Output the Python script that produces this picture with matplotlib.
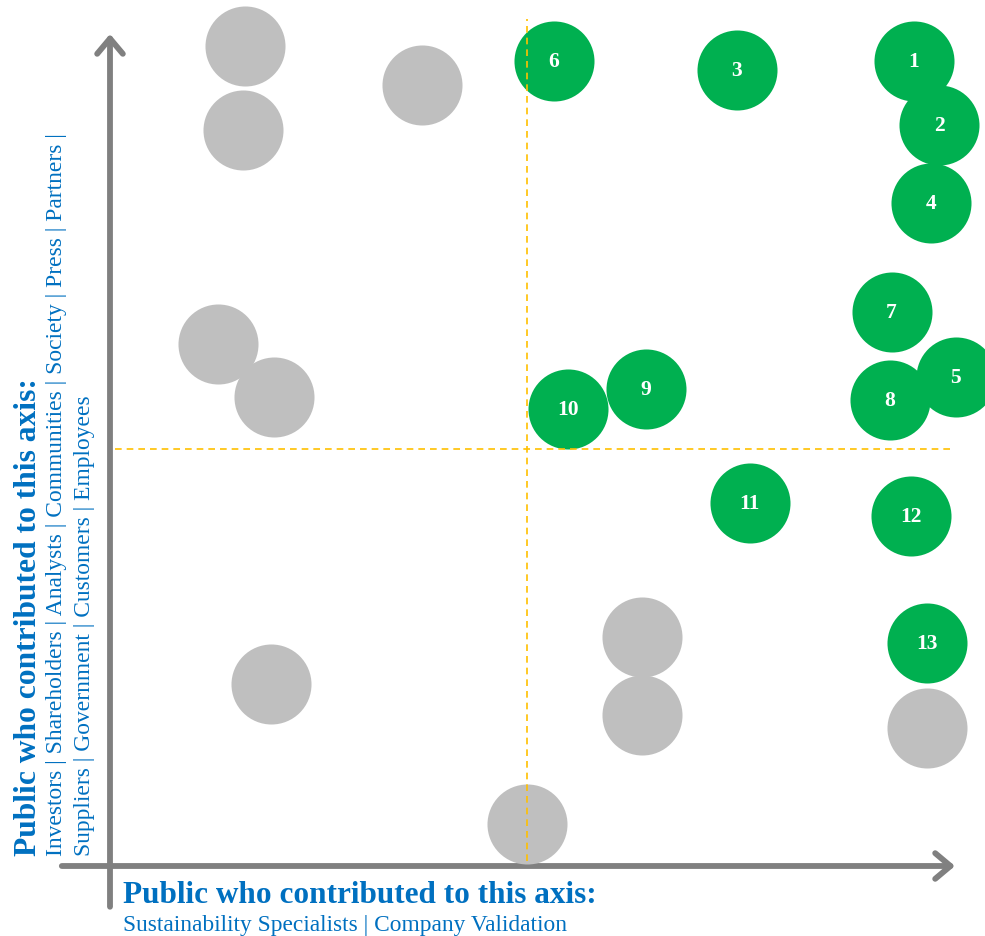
import matplotlib.pyplot as plt

plt.rcParams['font.family'] = ['Liberation Serif', 'DejaVu Serif']

# ---------------------------------------------------------------------------
# Data (0-100 scale on both axes)
# ---------------------------------------------------------------------------
green_labels = ['1', '2', '3', '4', '5', '6', '7', '8', '9', '10', '11', '12', '13']
green_x = [95.1, 98.1, 74.2, 97.2, 100.1, 52.5, 92.5, 92.3, 63.4, 54.2, 75.7, 94.8, 96.7]
green_y = [96.8, 89.1, 95.7, 79.7, 58.8, 96.8, 66.6, 56.0, 57.3, 54.9, 43.6, 42.1, 26.8]

gray_x = [16.0, 15.7, 36.9, 12.8, 19.4, 63.0, 63.0, 19.1, 49.3, 96.7]
gray_y = [98.6, 88.5, 93.9, 62.7, 56.4, 27.5, 18.1, 21.9, 5.0, 16.6]

x_cut = 49.3
y_cut = 50.1

x_title = 'Public who contributed to this axis:'
x_sub = 'Sustainability Specialists | Company Validation'
y_title = 'Public who contributed to this axis:'
y_sub1 = 'Investors | Shareholders | Analysts | Communities | Society | Press | Partners |'
y_sub2 = 'Suppliers | Government | Customers | Employees'

GREEN = '#00B050'
GRAY = '#BFBFBF'
AXIS = '#808080'
BLUE = '#0070C0'
ORANGE = '#FFC000'

# ---------------------------------------------------------------------------
# Figure
# ---------------------------------------------------------------------------
W, H = 985, 937
fig = plt.figure(figsize=(W / 100, H / 100), dpi=100)
ax = fig.add_axes([110 / W, (H - 867) / H, (955 - 110) / W, (867 - 35) / H])
ax.set_xlim(0, 100)
ax.set_ylim(0, 100)
ax.axis('off')

# axes with arrows
arrow = dict(arrowstyle='->, head_length=0.5, head_width=0.42', lw=4.2,
             color=AXIS, shrinkA=0, shrinkB=0, mutation_scale=22)
ax.annotate('', xy=(100, 0), xytext=(-5.7, 0), arrowprops=arrow,
            annotation_clip=False)
ax.annotate('', xy=(0, 100), xytext=(0, -4.9), arrowprops=arrow,
            annotation_clip=False)

# bubbles
size = 3320
ax.scatter(gray_x, gray_y, s=size, color=GRAY, linewidths=0, zorder=3,
           clip_on=False)
ax.scatter(green_x, green_y, s=size, color=GREEN, linewidths=0, zorder=4,
           clip_on=False)
for lab, x, y in zip(green_labels, green_x, green_y):
    ax.text(x, y, lab, color='white', fontsize=15.5, fontweight='bold',
            ha='center', va='center', zorder=5)

# quadrant dividers
ax.plot([x_cut, x_cut], [0.6, 101.8], color=ORANGE, lw=1.2,
        dashes=(4, 3), zorder=6, clip_on=False)
ax.plot([0.6, 100], [y_cut, y_cut], color=ORANGE, lw=1.2,
        dashes=(4, 3), zorder=6, clip_on=False)

# axis titles
fig.text(123 / W, 1 - 903 / H, x_title, color=BLUE, fontsize=22.5,
         fontweight='bold', ha='left', va='baseline')
fig.text(123 / W, 1 - 931 / H, x_sub, color=BLUE, fontsize=16.8,
         ha='left', va='baseline')

fig.text(29 / W, 1 - 856 / H, y_title, color=BLUE, fontsize=22.7,
         fontweight='bold', rotation=90, ha='center', va='bottom')
fig.text(57 / W, 1 - 856 / H, y_sub1, color=BLUE, fontsize=16.9,
         rotation=90, ha='center', va='bottom')
fig.text(85 / W, 1 - 856 / H, y_sub2, color=BLUE, fontsize=16.9,
         rotation=90, ha='center', va='bottom')

fig.savefig('out.png', dpi=100, facecolor='white')
